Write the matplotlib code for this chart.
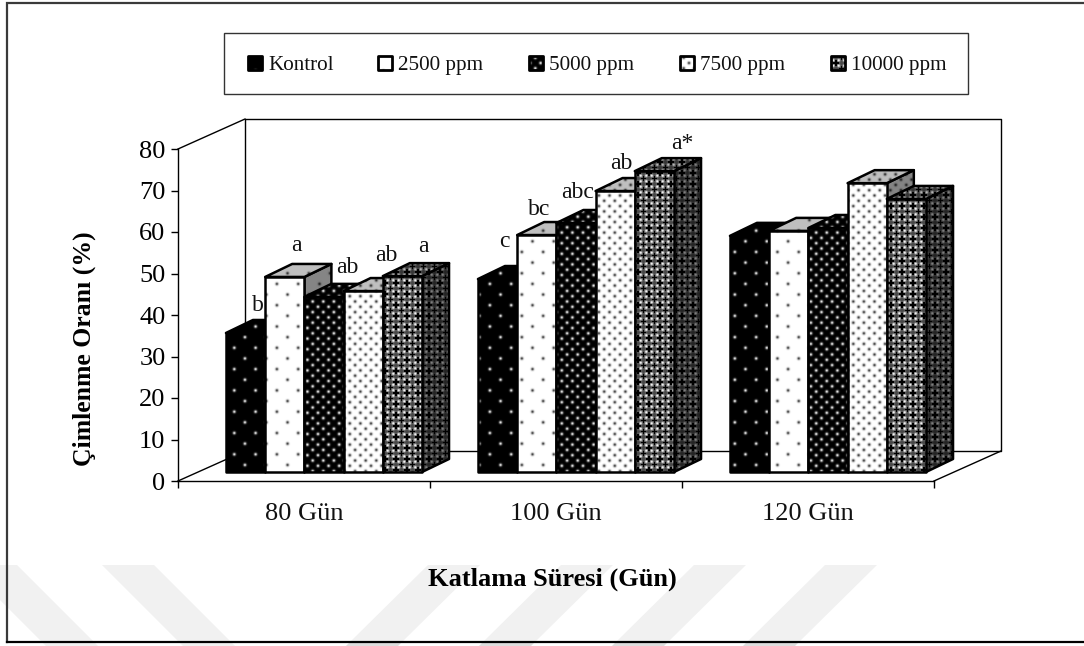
import numpy as np
import matplotlib
matplotlib.use("Agg")
import matplotlib.pyplot as plt
from matplotlib.patches import Polygon, Rectangle
from matplotlib.transforms import Affine2D, IdentityTransform

plt.rcParams["font.family"] = ["Liberation Serif", "DejaVu Serif"]

# ---- data -------------------------------------------------------------
periods = ["80 Gün", "100 Gün", "120 Gün"]
series = ["Kontrol", "2500 ppm", "5000 ppm", "7500 ppm", "10000 ppm"]
kontrol = [33.5, 46.5, 56.9]
ppm_2500 = [47.0, 57.1, 58.1]
ppm_5000 = [42.2, 60.0, 58.8]
ppm_7500 = [43.6, 67.7, 69.6]
ppm_10000 = [47.2, 72.5, 65.8]
letters_80 = ["b", "a", "ab", "ab", "a"]
letters_100 = ["c", "bc", "abc", "ab", "a*"]
y_ticks = [0, 10, 20, 30, 40, 50, 60, 70, 80]

values = [kontrol, ppm_2500, ppm_5000, ppm_7500, ppm_10000]
styles = ["sparse_dark", "sparse_light", "dense_dark", "dense_light", "cross"]

# ---- layout (pixels, y measured from the top of the canvas) -------------
W, H = 1084, 646
AX_L, AX_R, AX_T, AX_B = 178, 934, 149, 481
WALL_SHIFT = (67, 30)       # back wall relative to the front plane
BAR_SHIFT = (20, 9)         # front of the bars relative to the front plane
BAR_DEPTH = (27, 13)        # depth of each bar
BAR_W = 0.1556              # in category units
LW = 1.8
# label anchor relative to the top-left corner of each bar front
label_offsets_80 = [(32, 27), (31, 31), (43, 29), (43, 36), (41, 30)]
label_offsets_100 = [(26, 38), (22, 26), (21, 31), (26, 28), (47, 28)]


def texture(kind, x0, x1, y0, y1, shade=1.0):
    """Grey-level fill pattern evaluated on absolute canvas pixels."""
    xs, ys = np.meshgrid(np.arange(x0, x1) + 0.5, np.arange(y0, y1) + 0.5)
    if kind == "cross":
        p = 11.0
    elif kind.startswith("sparse"):
        p = 21.3
    else:
        p = 10.6

    def nearest(u, v):
        a = (u + p / 2) % p - p / 2
        b = (v + p / 2) % p - p / 2
        c = (u % p) - p / 2
        d = (v % p) - p / 2
        first = a ** 2 + b ** 2 <= c ** 2 + d ** 2
        return np.where(first, a, c), np.where(first, b, d)

    dx, dy = nearest(xs, ys)
    r2 = dx ** 2 + dy ** 2
    spot = np.exp(-r2 / 2.4)
    if kind.endswith("dark"):
        img = 0.88 * spot
    elif kind.endswith("light"):
        img = (1.0 - 0.72 * spot) * shade
    else:
        img = 0.28 + 0.7 * np.exp(-((np.abs(dx) - 2.75) ** 2 + (np.abs(dy) - 2.75) ** 2) / 2.2)
        plus = ((np.abs(dx) < 1.0) & (np.abs(dy) < 2.8)) | ((np.abs(dy) < 1.0) & (np.abs(dx) < 2.8))
        img = np.where(plus, 0.0, img) * shade
    return img


def face(ax, pts, trans, kind, shade=1.0, z=3, lw=LW):
    """Fill a polygon with a pixel pattern and stroke its outline."""
    disp = trans.transform(pts)
    x0, y0 = np.floor(disp.min(axis=0)).astype(int)
    x1, y1 = np.ceil(disp.max(axis=0)).astype(int)
    im = ax.imshow(texture(kind, x0, max(x1, x0 + 1), y0, max(y1, y0 + 1), shade),
                   cmap="gray", vmin=0, vmax=1, origin="lower", aspect="auto",
                   interpolation="bilinear", extent=(x0, x1, y0, y1),
                   transform=IdentityTransform(), zorder=z)
    outline = Polygon(pts, closed=True, transform=trans, fill=False,
                      edgecolor="black", linewidth=lw, joinstyle="round",
                      zorder=z, clip_on=False)
    ax.add_patch(outline)
    im.set_clip_path(Polygon(pts, closed=True, transform=trans))
    im.set_clip_box(ax.figure.bbox)


fig = plt.figure(figsize=(W / 100, H / 100), dpi=100, facecolor="white")

# ---- background layer in canvas pixels ----------------------------------
bg = fig.add_axes([0, 0, 1, 1], zorder=0)
bg.set_xlim(0, W)
bg.set_ylim(H, 0)
bg.axis("off")

band_color = "#f1f1f1"
for xb in (-35, 102):          # bands leaning one way
    bg.add_patch(Polygon([(xb, 565), (xb + 52, 565), (xb + 133, 646), (xb + 81, 646)],
                         facecolor=band_color, edgecolor="none"))
for xb in (350, 483, 616, 747):  # bands leaning the other way
    bg.add_patch(Polygon([(xb, 642), (xb + 52, 642), (xb + 130, 565), (xb + 78, 565)],
                         facecolor=band_color, edgecolor="none"))
    bg.add_patch(Polygon([(xb - 4, 646), (xb + 48, 646), (xb + 52, 642), (xb, 642)],
                         facecolor="#dddddd", edgecolor="none"))

bg.plot([7, 7, 1084], [642, 3, 3], color="#3a3a3a", lw=1.6, solid_joinstyle="miter")
bg.plot([7, 1084], [642, 642], color="black", lw=1.6)

# legend box
bg.add_patch(Rectangle((223.5, 33), 744, 61, facecolor="white", edgecolor="#333333", lw=1.0))
swatch_x = [248, 378, 529, 680, 831]
for name, sx, kind in zip(series, swatch_x, styles):
    pts = np.array([(sx, 70), (sx + 14, 70), (sx + 14, 56), (sx, 56)], float)
    face(bg, pts, bg.transData, kind, lw=2.0, z=2)
    bg.text(sx + 20, 70, name, fontsize=15.2, va="baseline", ha="left", color="#111111")
bg.set_xlim(0, W)
bg.set_ylim(H, 0)

# ---- chart --------------------------------------------------------------
ax = fig.add_axes([AX_L / W, 1 - AX_B / H, (AX_R - AX_L) / W, (AX_B - AX_T) / H], zorder=1)
ax.patch.set_alpha(0)
ax.set_xlim(0, len(periods))
ax.set_ylim(0, 80)
for side in ("top", "right"):
    ax.spines[side].set_visible(False)
for side in ("left", "bottom"):
    ax.spines[side].set_linewidth(1.0)

ax.set_yticks(y_ticks)
ax.set_xticks(range(len(periods) + 1))
ax.set_xticklabels([])
ax.tick_params(axis="y", length=5, width=1, labelsize=19, pad=4)
ax.tick_params(axis="x", length=5, width=1)
for i, name in enumerate(periods):
    ax.annotate(name, (i + 0.5, 0), xytext=(0, -33), textcoords="offset pixels",
                ha="center", va="center", fontsize=19, color="#111111",
                annotation_clip=False)
ax.set_ylabel("Çimlenme Oranı (%)", fontsize=18.5, fontweight="bold")
ax.yaxis.set_label_coords((96 - AX_L) / (AX_R - AX_L), (AX_B - 349) / (AX_B - AX_T))
ax.set_xlabel("Katlama Süresi (Gün)", fontsize=19, fontweight="bold")
ax.xaxis.set_label_coords((552 - AX_L) / (AX_R - AX_L), -(568 - AX_B) / (AX_B - AX_T))

# back wall and floor edges
wall = ax.transData + Affine2D().translate(*WALL_SHIFT)
nx = len(periods)
ax.plot([0, 0, nx, nx, 0], [0, 80, 80, 0, 0], transform=wall, color="black", lw=1.0,
        clip_on=False, zorder=1)
for x, y in [(0, 0), (0, 80), (nx, 0)]:
    p0 = ax.transData.transform((x, y))
    p1 = wall.transform((x, y))
    ax.plot([p0[0], p1[0]], [p0[1], p1[1]], transform=IdentityTransform(),
            color="black", lw=1.0, clip_on=False, zorder=1)

# bars, painted left to right so each front hides its neighbour's side
front = ax.transData + Affine2D().translate(*BAR_SHIFT)
back = front + Affine2D().translate(*BAR_DEPTH)
start = 0.5 - 2.5 * BAR_W
z = 3
for g in range(nx):
    for s, kind in enumerate(styles):
        v = values[s][g]
        x0 = g + start + s * BAR_W
        x1 = x0 + BAR_W
        p_bl, p_tl, p_tr, p_br = [front.transform(p) for p in [(x0, 0), (x0, v), (x1, v), (x1, 0)]]
        b_tl, b_tr, b_br = [back.transform(p) for p in [(x0, v), (x1, v), (x1, 0)]]
        ident = IdentityTransform()
        face(ax, np.array([p_br, p_tr, b_tr, b_br]), ident, kind, shade=0.52, z=z)
        face(ax, np.array([p_tl, b_tl, b_tr, p_tr]), ident, kind, shade=0.75, z=z)
        face(ax, np.array([p_bl, p_tl, p_tr, p_br]), ident, kind, shade=1.0, z=z + 0.5)
        z += 1

# significance letters on the first two groups
for g, (letters, offsets) in enumerate([(letters_80, label_offsets_80),
                                        (letters_100, label_offsets_100)]):
    for s, (text, off) in enumerate(zip(letters, offsets)):
        x0 = g + start + s * BAR_W
        anchor = front.transform((x0, values[s][g]))
        ax.text(anchor[0] + off[0], anchor[1] + off[1], text, transform=IdentityTransform(),
                ha="center", va="center", fontsize=17, color="#111111", zorder=200,
                clip_on=False)

ax.set_xlim(0, nx)
ax.set_ylim(0, 80)
fig.savefig("out.png", dpi=100)
